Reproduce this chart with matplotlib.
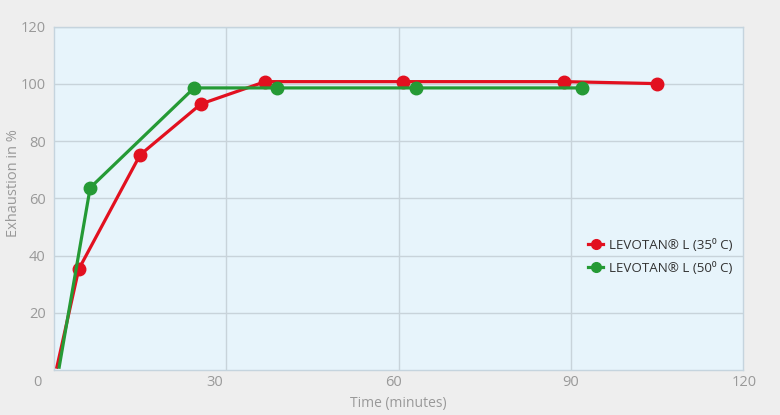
import matplotlib
matplotlib.use("Agg")
import matplotlib.pyplot as plt
import matplotlib.transforms as mtransforms

plt.rcParams['font.family'] = ['Open Sans', 'DejaVu Sans']

# Data
red_x = [0.5, 4.3, 15.0, 25.6, 36.8, 60.8, 88.9, 105.1]
red_y = [1.0, 35.2, 75.2, 93.0, 100.8, 100.8, 100.8, 100.1]
green_x = [0.9, 6.3, 24.4, 38.9, 63.1, 92.0]
green_y = [1.0, 63.7, 98.6, 98.6, 98.6, 98.6]
series_labels = ["LEVOTAN® L (35⁰ C)", "LEVOTAN® L (50⁰ C)"]
x_tick_labels = ["0", "30", "60", "90", "120"]
x_label_pos = [-2.8, 28.0, 59.1, 89.9, 120.3]
y_ticks = [20, 40, 60, 80, 100, 120]

fig = plt.figure(figsize=(7.8, 4.15), dpi=100, facecolor="#eeeeee")
ax = fig.add_axes([54/780, 45/415, 689/780, 343.3/415])
ax.set_facecolor("#e7f4fb")
ax.set_xlim(0, 120)
ax.set_ylim(0, 120)

ax.set_xticks([30, 60, 90])
ax.set_xticklabels([])
ax.set_yticks(y_ticks)
ax.set_yticklabels([str(v) for v in y_ticks], color="#999999", fontsize=10.5)
ax.tick_params(axis='both', length=0, pad=6)
ax.grid(True, color="#c8d3da", linewidth=1)
ax.set_axisbelow(True)
for s in ax.spines.values():
    s.set_color("#c5d4de")
    s.set_linewidth(1)

trans = mtransforms.blended_transform_factory(ax.transData, ax.transAxes)
for pos, lab in zip(x_label_pos, x_tick_labels):
    ax.text(pos, -0.037, lab, transform=trans, ha='center', va='center',
            color="#999999", fontsize=10.5, clip_on=False)

ax.plot(red_x, red_y, color="#e2101f", linewidth=2.3, marker='o',
        markersize=9, markevery=list(range(1, len(red_x))),
        label=series_labels[0], zorder=3)
ax.plot(green_x, green_y, color="#259a35", linewidth=2.3, marker='o',
        markersize=9, markevery=list(range(1, len(green_x))),
        label=series_labels[1], zorder=3)

leg = ax.legend(loc='upper left', bbox_to_anchor=(534/689, (370-239)/343.3),
                frameon=False, fontsize=9.6, handlelength=1.15,
                handletextpad=0.45, labelspacing=0.72,
                borderaxespad=0, borderpad=0)
for h in leg.legend_handles:
    n = len(h.get_xdata())
    h.set_markevery([n // 2])
    h.set_markersize(7)
for t in leg.get_texts():
    t.set_color("#333333")

fig.text(14/780, 1 - 183/415, "Exhaustion in %", rotation=90, ha='center',
         va='center', color="#999999", fontsize=10.5)
fig.text(398/780, 1 - 403/415, "Time (minutes)", ha='center', va='center',
         color="#999999", fontsize=10)

fig.savefig("out.png", dpi=100, facecolor=fig.get_facecolor())
